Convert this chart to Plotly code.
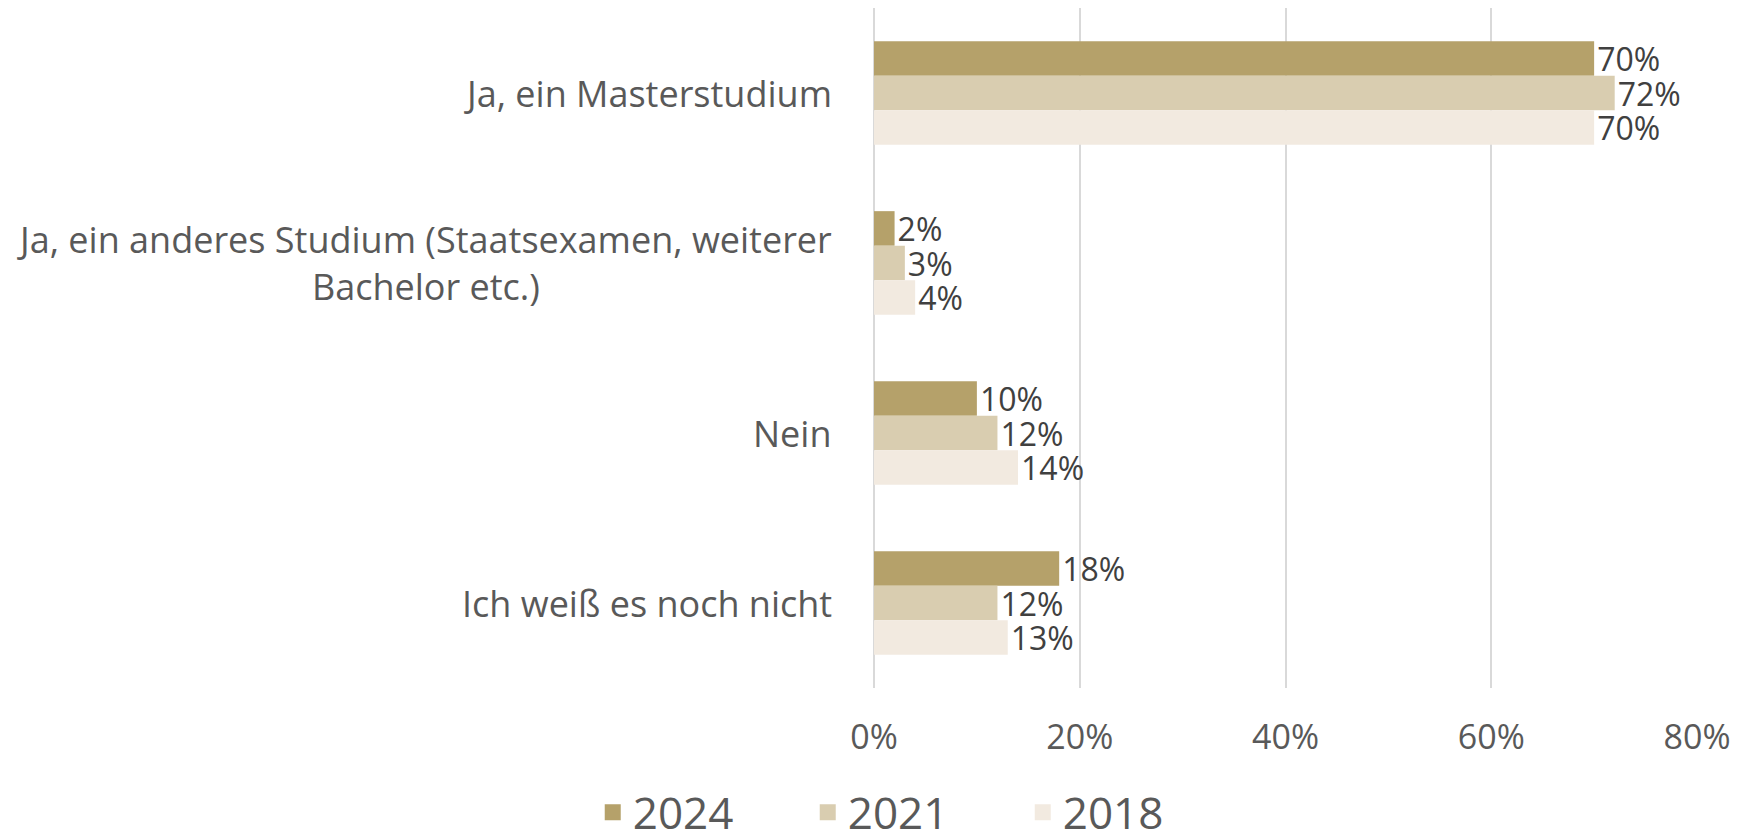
import plotly.graph_objects as go

categories = [
    "Ja, ein Masterstudium",
    "Ja, ein anderes Studium (Staatsexamen, weiterer<br>Bachelor etc.)",
    "Nein",
    "Ich weiß es noch nicht",
]
years = ["2024", "2021", "2018"]
values = {
    "2024": [70, 2, 10, 18],
    "2021": [72, 3, 12, 12],
    "2018": [70, 4, 14, 13],
}
colors = {"2024": "#B5A16A", "2021": "#D9CDB0", "2018": "#F2EAE0"}
tick_vals = [0, 20, 40, 60, 80]
tick_text = ["0%", "20%", "40%", "60%", "80%"]

FONT = "Open Sans"
GREY = "#595959"

fig = go.Figure()
for yr in years:
    fig.add_trace(go.Bar(
        y=categories,
        x=values[yr],
        name=yr,
        orientation="h",
        marker=dict(color=colors[yr], line=dict(width=0)),
        text=[f"{v}%" for v in values[yr]],
        textposition="outside",
        constraintext="none",
        textfont=dict(family=FONT, size=32, color="#404040"),
        cliponaxis=False,
        showlegend=False,
    ))

# legend entries with bigger square swatches
for yr in years:
    fig.add_trace(go.Scatter(
        x=[None], y=[None], mode="markers", name=yr,
        marker=dict(symbol="square", size=30, color=colors[yr]),
    ))

for cat in categories:
    fig.add_annotation(
        x=0, y=cat, xref="paper", yref="y",
        text=cat, showarrow=False,
        xanchor="right", xshift=-40, align="center",
        font=dict(family=FONT, size=36, color=GREY),
    )

fig.update_layout(
    width=1738,
    height=840,
    barmode="group",
    bargap=0.39,
    bargroupgap=0,
    plot_bgcolor="white",
    paper_bgcolor="white",
    margin=dict(l=866, r=49, t=0, b=160),
    font=dict(family=FONT, color=GREY),
    legend=dict(
        orientation="h",
        xref="container", yref="container",
        x=0.522, y=0.042, xanchor="center", yanchor="middle",
        font=dict(family=FONT, size=44, color=GREY),
        itemwidth=30,
        entrywidth=170,
        traceorder="normal",
    ),
    xaxis=dict(
        range=[0, 80],
        tickvals=tick_vals,
        ticktext=tick_text,
        tickfont=dict(family=FONT, size=34, color=GREY),
        showgrid=True,
        gridcolor="#D9D9D9",
        gridwidth=2,
        zeroline=True,
        zerolinecolor="#D9D9D9",
        zerolinewidth=2,
        ticklabelstandoff=26,
        fixedrange=True,
    ),
    yaxis=dict(
        autorange="reversed",
        showticklabels=False,
        showgrid=False,
        fixedrange=True,
    ),
)

fig.write_html("out.html")
